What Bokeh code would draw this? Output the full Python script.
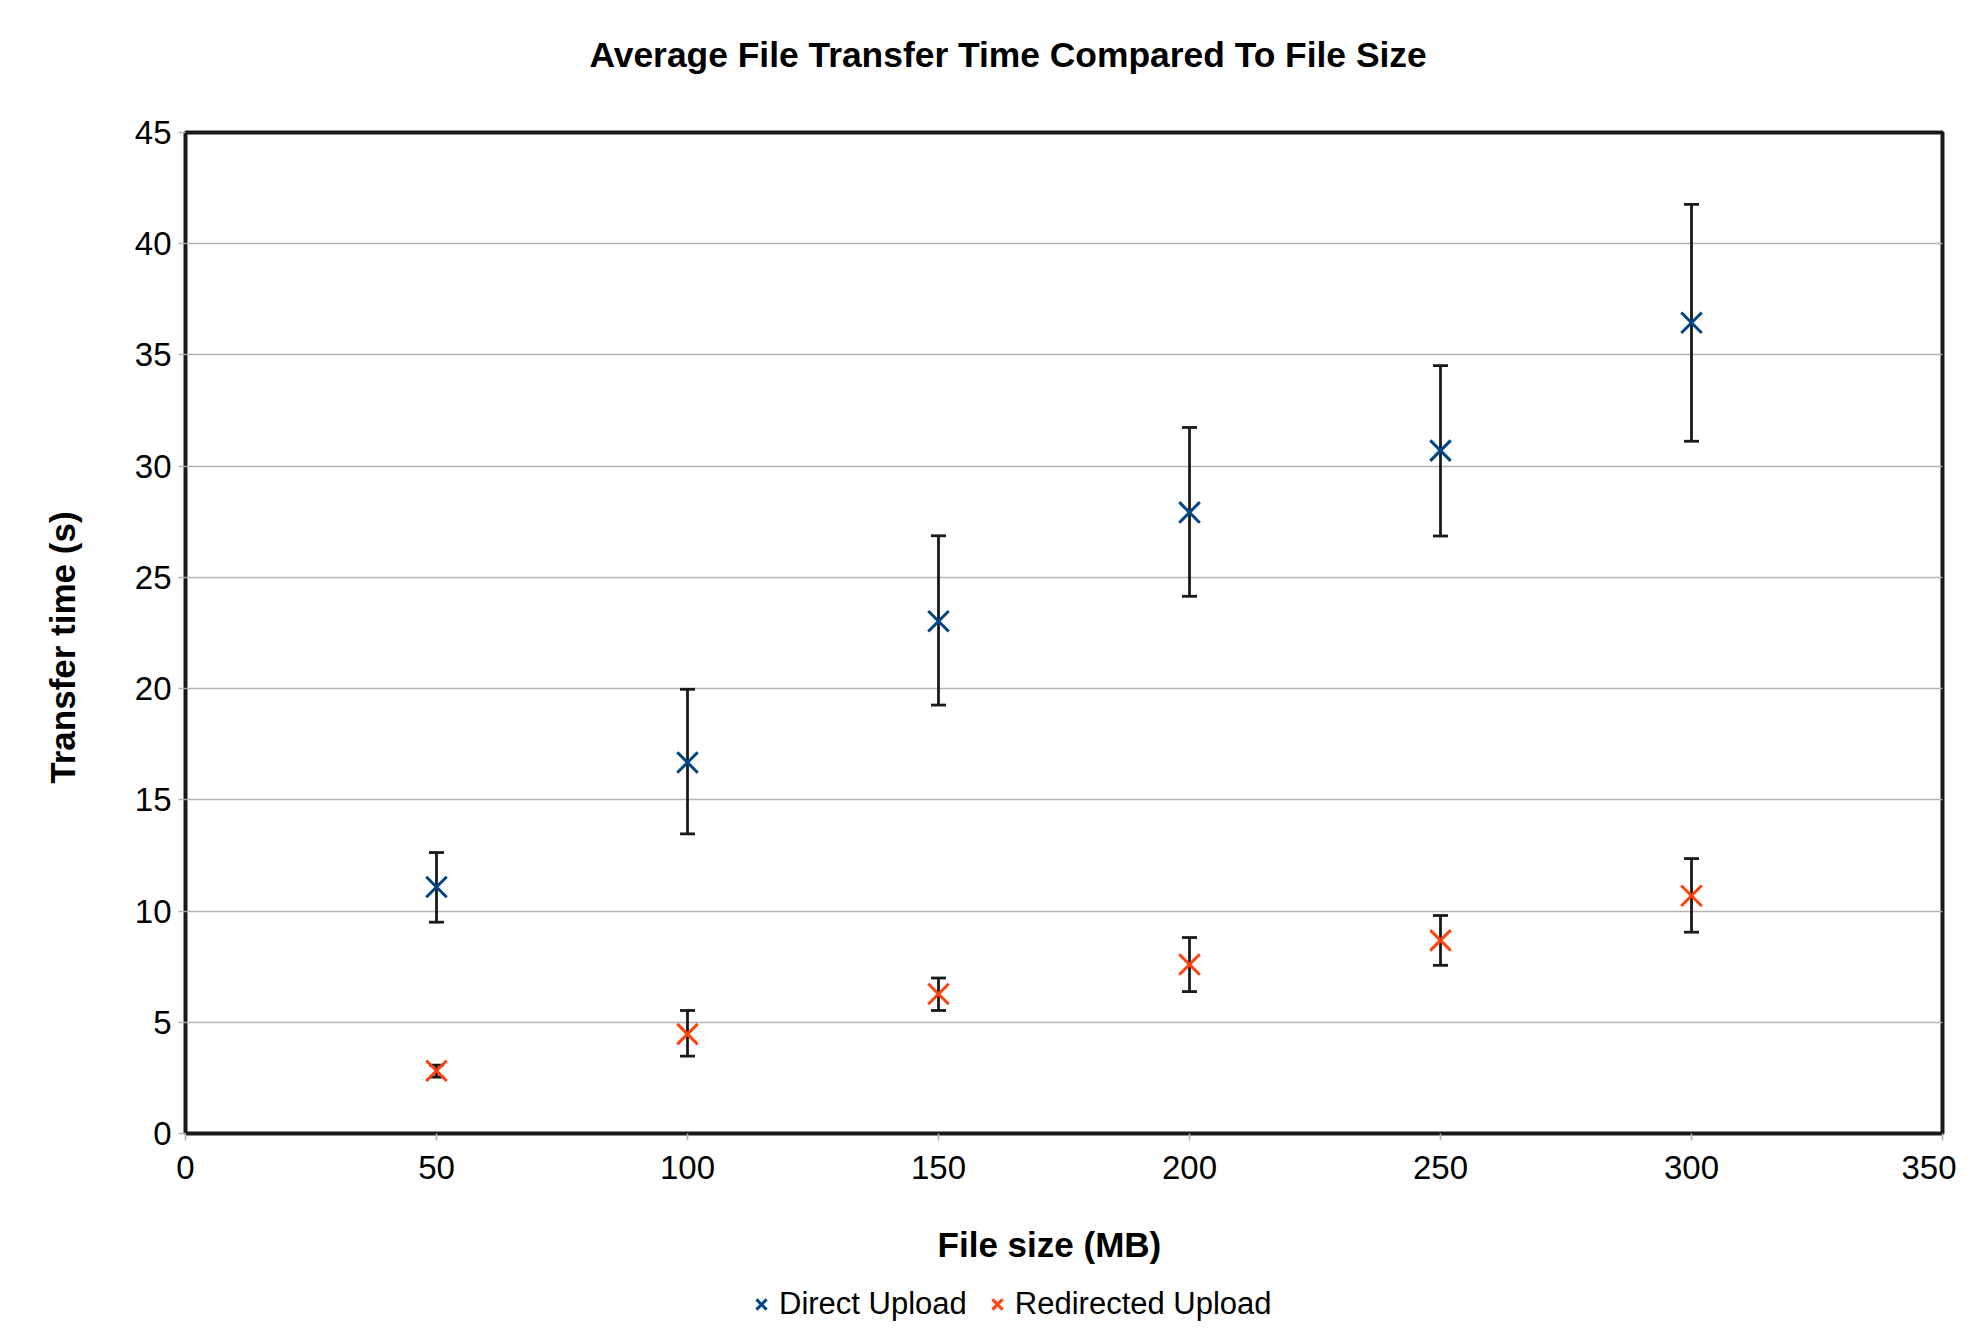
from bokeh.plotting import figure
from bokeh.layouts import column
from bokeh.models import (Range1d, FixedTicker, ColumnDataSource, Whisker, TeeHead,
                          Legend, LegendItem, Title)
from bokeh.embed import file_html
from bokeh.resources import INLINE

# ---- data ----
file_size = [50, 100, 150, 200, 250, 300]
direct_mean = [11.08, 16.68, 23.03, 27.92, 30.70, 36.45]
direct_upper = [12.63, 19.97, 26.87, 31.74, 34.52, 41.77]
direct_lower = [9.50, 13.47, 19.26, 24.15, 26.86, 31.12]
redirect_mean = [2.82, 4.47, 6.27, 7.60, 8.68, 10.69]
redirect_upper = [3.07, 5.53, 6.99, 8.81, 9.80, 12.36]
redirect_lower = [2.54, 3.48, 5.53, 6.38, 7.56, 9.05]

x_ticks = [0, 50, 100, 150, 200, 250, 300, 350]
y_ticks = [0, 5, 10, 15, 20, 25, 30, 35, 40, 45]
series_names = ["Direct Upload", "Redirected Upload"]
series_colors = ["#004586", "#ff420e"]

FONT = "Liberation Sans"
NB = "\u00a0"

fig = figure(width=1956, height=1283, output_backend="svg", toolbar_location=None,
             x_range=Range1d(0, 350), y_range=Range1d(0, 45),
             min_border_left=185, min_border_right=14, min_border_top=132,
             min_border_bottom=150)
fig.background_fill_color = "white"
fig.border_fill_color = "white"
fig.outline_line_color = "#1a1a1a"
fig.outline_line_width = 4

# title (outermost) plus a thin spacer title between it and the frame
fig.title.text = "Average File Transfer Time Compared To File Size"
fig.title.text_font = FONT
fig.title.text_font_size = "35.4px"
fig.title.text_font_style = "bold"
fig.title.text_color = "black"
fig.title.align = "left"
fig.title.offset = 404
fig.title.standoff = 0
fig.add_layout(Title(text=NB, text_font_size="1px", standoff=55), "above")

# grids
fig.xgrid.grid_line_color = None
fig.ygrid.grid_line_color = "#b3b3b3"
fig.ygrid.grid_line_width = 1.5

# axes
for ax in (fig.xaxis[0], fig.yaxis[0]):
    ax.axis_line_color = None
    ax.major_tick_line_color = "#b3b3b3"
    ax.major_tick_line_width = 1.5
    ax.major_tick_out = 7
    ax.major_tick_in = 0
    ax.minor_tick_line_color = None
    ax.major_label_text_font = FONT
    ax.major_label_text_font_size = "33px"
    ax.major_label_text_color = "black"
    ax.axis_label_text_font = FONT
    ax.axis_label_text_font_size = "35px"
    ax.axis_label_text_font_style = "bold"
    ax.axis_label_text_color = "black"

fig.xaxis.ticker = FixedTicker(ticks=x_ticks)
fig.yaxis.ticker = FixedTicker(ticks=y_ticks)
fig.xaxis.axis_label = "File size (MB)" + NB * 3
fig.yaxis.axis_label = "Transfer time (s)" + NB * 3
fig.xaxis.major_label_standoff = 15
fig.xaxis.axis_label_standoff = 43
fig.yaxis.major_label_standoff = 7
fig.yaxis.axis_label_standoff = 50

# data
means = [direct_mean, redirect_mean]
uppers = [direct_upper, redirect_upper]
lowers = [direct_lower, redirect_lower]
sources = []
for col, m, u, l in zip(series_colors, means, uppers, lowers):
    src = ColumnDataSource(dict(x=file_size, y=m, upper=u, lower=l))
    sources.append(src)
    fig.scatter("x", "y", source=src, marker="x", size=29, line_width=3,
                line_color=col)
    w = Whisker(base="x", upper="upper", lower="lower", source=src,
                line_color="#1a1a1a", line_width=2.8,
                upper_head=TeeHead(size=15, line_width=2.8, line_color="#1a1a1a"),
                lower_head=TeeHead(size=15, line_width=2.8, line_color="#1a1a1a"))
    fig.add_layout(w)

# legend strip below the chart (its ranges keep the series out of view;
# the renderers only supply the legend glyphs)
leg = figure(width=1956, height=40, output_backend="svg", toolbar_location=None,
             x_range=Range1d(1000, 2000), y_range=Range1d(1000, 1040),
             x_axis_location=None, y_axis_location=None, min_border=0)
leg.outline_line_color = None
leg.xgrid.grid_line_color = None
leg.ygrid.grid_line_color = None
leg.background_fill_color = "white"
leg.border_fill_color = "white"
items = []
for name, col, src in zip(series_names, series_colors, sources):
    r = leg.scatter("x", "y", source=src, marker="x", size=29, line_width=3,
                    line_color=col)
    items.append(LegendItem(label=name, renderers=[r]))
legend = Legend(items=items, orientation="horizontal", location=(558, 1),
                background_fill_alpha=0, border_line_color=None,
                label_text_font=FONT, label_text_font_size="31px",
                label_text_color="black", glyph_width=36, glyph_height=36,
                label_standoff=0, spacing=12, padding=0, margin=0)
leg.add_layout(legend)

p = column(fig, leg, spacing=0)
open("out.html", "w").write(file_html(p, INLINE))
